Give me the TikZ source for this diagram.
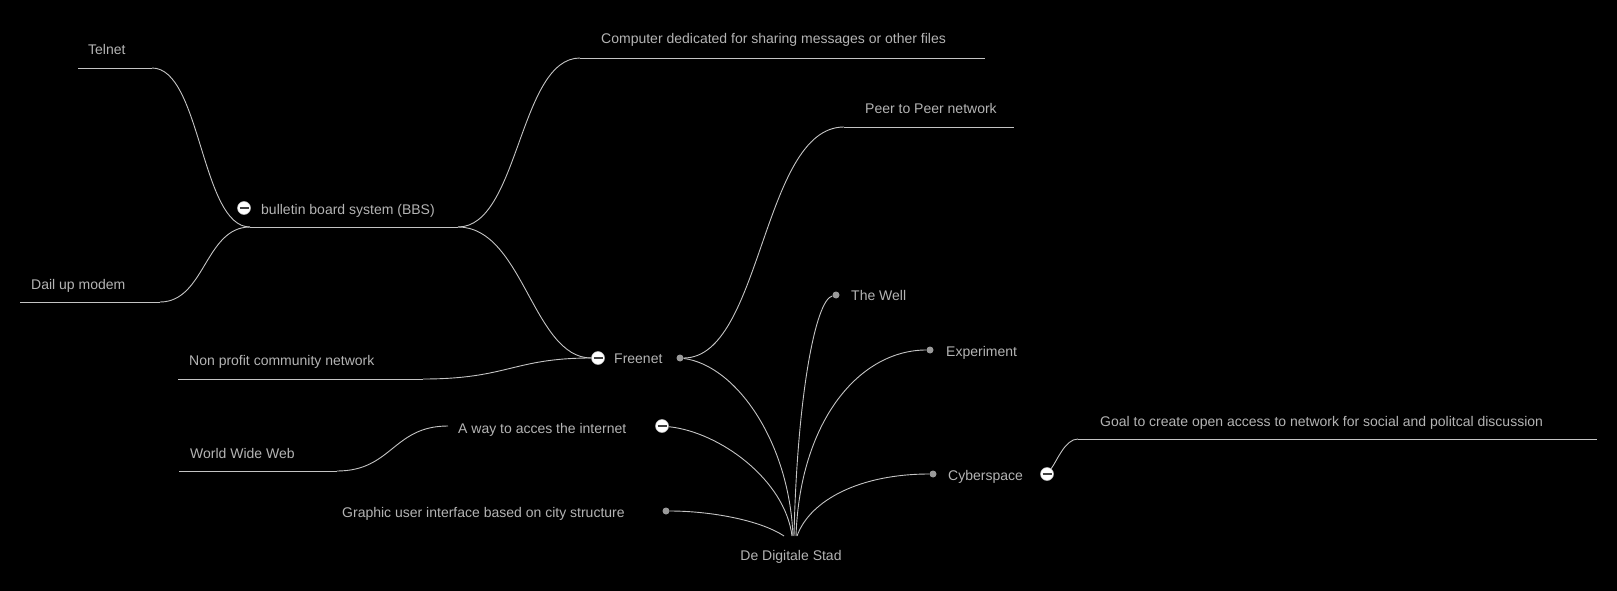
\documentclass[tikz,border=0pt]{standalone}
\usepackage{fontspec}
\setmainfont{Liberation Sans}
\definecolor{txtc}{HTML}{B4B4B4}
\definecolor{linec}{HTML}{C4C4C4}
\definecolor{dotc}{HTML}{9A9A9A}
\begin{document}
\begin{tikzpicture}[x=1pt,y=-1pt,
  lbl/.style={anchor=base west, text=txtc, inner sep=0pt, font=\fontsize{14}{16}\selectfont},
  conn/.style={draw=linec, line width=0.9pt},
  dotnode/.style={circle, fill=dotc, minimum size=7pt, inner sep=0pt},
  minusnode/.style={circle, fill=white, draw=gray!50, line width=0.5pt, minimum size=13pt, inner sep=0pt,
    path picture={\draw[line width=1.8pt, draw=black!75] ([xshift=-4.5pt]path picture bounding box.center) -- ([xshift=4.5pt]path picture bounding box.center);}}]
\fill[black] (0,0) rectangle (1617,591);
\useasboundingbox (0,0) rectangle (1617,591);

% texts
\node[lbl] (telnet) at (88,55) {Telnet};
\node[lbl] (dail) at (31,289) {Dail up modem};
\node[lbl] (bbs) at (261,214) {bulletin board system (BBS)};
\node[lbl] (comp) at (601,44) {Computer dedicated for sharing messages or other files};
\node[lbl] (peer) at (865,114) {Peer to Peer network};
\node[lbl] (free) at (614,363) {Freenet};
\node[lbl] (np) at (189,365) {Non profit community network};
\node[lbl] (www) at (190,458) {World Wide Web};
\node[lbl] (away) at (458,433) {A way to acces the internet};
\node[lbl] (gui) at (342,517) {Graphic user interface based on city structure};
\node[lbl] (well) at (851,300) {The Well};
\node[lbl] (exp) at (946,356) {Experiment};
\node[lbl] (cyber) at (948,480) {Cyberspace};
\node[lbl] (goal) at (1100,426) {Goal to create open access to network for social and politcal discussion};
\node[lbl, anchor=base] (root) at (791,560) {De Digitale Stad};

% underline end points
\coordinate (telA) at (78,68);   \coordinate (telB) at (152,68);
\coordinate (dailA) at (20,302); \coordinate (dailB) at (160,302);
\coordinate (bbsA) at (250,227); \coordinate (bbsB) at (458,227);
\coordinate (compA) at (580,58); \coordinate (compB) at (985,58);
\coordinate (peerA) at (844,127); \coordinate (peerB) at (1014,127);
\coordinate (npA) at (178,379);  \coordinate (npB) at (423,379);
\coordinate (wwwA) at (179,471); \coordinate (wwwB) at (337,471);
\coordinate (goalA) at (1078,439); \coordinate (goalB) at (1597,439);
\coordinate (awayL) at (448,426);
\coordinate (rootP) at (794,536);

% underlines
\draw[conn] (telA) -- (telB);
\draw[conn] (dailA) -- (dailB);
\draw[conn] (bbsA) -- (bbsB);
\draw[conn] (compA) -- (compB);
\draw[conn] (peerA) -- (peerB);
\draw[conn] (npA) -- (npB);
\draw[conn] (wwwA) -- (wwwB);
\draw[conn] (goalA) -- (goalB);

% markers
\node[minusnode] (bbsM) at (244,208) {};
\node[minusnode] (freeM) at (598,358) {};
\node[dotnode] (freeD) at (680,358) {};
\node[minusnode] (awayM) at (662,426) {};
\node[dotnode] (guiD) at (666,511) {};
\node[dotnode] (wellD) at (836,295) {};
\node[dotnode] (expD) at (930,350) {};
\node[dotnode] (cyberD) at (933,474) {};
\node[minusnode] (cyberM) at (1047,474) {};

% connectors
\draw[conn] (telB) .. controls +(49,0) and +(-49,0) .. (bbsA);
\draw[conn] (dailB) .. controls +(45,0) and +(-45,0) .. (bbsA);
\draw[conn] (bbsB) .. controls +(61,0) and +(-61,0) .. (compA);
\draw[conn] (bbsB) .. controls +(65,0) and +(-65,0) .. (freeM);
\draw[conn] (npB) .. controls +(85,0) and +(-85,0) .. (freeM);
\draw[conn] (freeD) .. controls +(82,0) and +(-82,0) .. (peerA);
\draw[conn] (wwwB) .. controls +(55,0) and +(-55,0) .. (awayL);
\draw[conn] (freeD) .. controls +(55,7) and +(-4,-96) .. ([xshift=-1pt]rootP);
\draw[conn] (awayM) .. controls +(58,6) and +(-7,-56) .. ([xshift=-2pt]rootP);
\draw[conn] (guiD) .. controls +(44,0) and +(-24,-16) .. ([xshift=-10pt]rootP);
\draw[conn] (rootP) .. controls +(3,-136) and +(-21,5) .. (wellD);
\draw[conn] ([xshift=2pt]rootP) .. controls +(4,-116) and +(-70,0) .. (expD);
\draw[conn] ([xshift=3pt]rootP) .. controls +(13,-36) and +(-73,0) .. (cyberD);
\draw[conn] (cyberM) .. controls +(10,-13) and +(-13,0) .. (goalA);
\end{tikzpicture}
\end{document}
